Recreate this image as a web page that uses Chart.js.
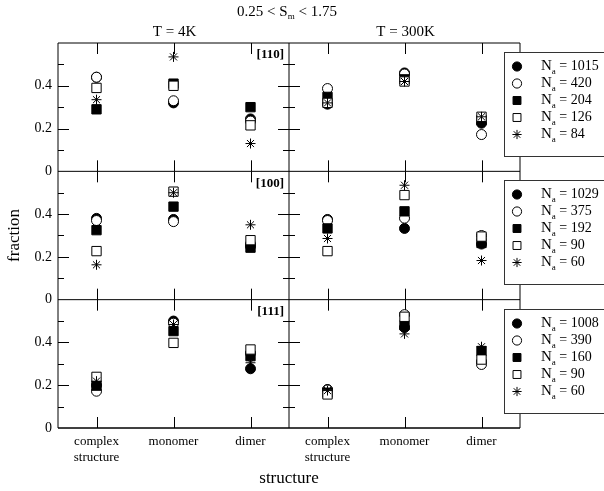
<!DOCTYPE html>
<html>
<head>
<meta charset="utf-8">
<script src="https://cdn.jsdelivr.net/npm/chart.js@4.4.0/dist/chart.umd.min.js"></script>
<style>
  html, body { margin: 0; padding: 0; background: #fff; }
  #wrap { width: 604px; height: 491px; position: relative; }
</style>
</head>
<body>
<div id="wrap"><canvas id="chart" width="604" height="491"></canvas></div>
<script>
const categories = ['complex structure', 'monomer', 'dimer'];
const temps = ['T = 4K', 'T = 300K'];
const rows = ['[110]', '[100]', '[111]'];
const yTicks = [0, 0.2, 0.4];

// N_a of each series, per orientation
const sizes110 = [1015, 420, 204, 126, 84];
const sizes100 = [1029, 375, 192, 90, 60];
const sizes111 = [1008, 390, 160, 90, 60];

// fraction per series: [complex structure, monomer, dimer]
const f110_4K = [
  [0.44, 0.32, 0.245],
  [0.44, 0.33, 0.235],
  [0.29, 0.41, 0.30],
  [0.39, 0.40, 0.215],
  [0.335, 0.535, 0.13]
];
const f110_300K = [
  [0.314, 0.46, 0.225],
  [0.387, 0.455, 0.172],
  [0.348, 0.43, 0.24],
  [0.32, 0.42, 0.255],
  [0.32, 0.42, 0.255]
];
const f100_4K = [
  [0.38, 0.375, 0.25],
  [0.37, 0.365, 0.26],
  [0.325, 0.435, 0.243],
  [0.227, 0.505, 0.278],
  [0.163, 0.50, 0.35]
];
const f100_300K = [
  [0.375, 0.333, 0.26],
  [0.37, 0.381, 0.30],
  [0.333, 0.413, 0.265],
  [0.227, 0.489, 0.295],
  [0.286, 0.535, 0.183]
];
const f111_4K = [
  [0.20, 0.50, 0.277],
  [0.172, 0.49, 0.35],
  [0.198, 0.453, 0.336],
  [0.239, 0.398, 0.367],
  [0.219, 0.484, 0.305]
];
const f111_300K = [
  [0.18, 0.47, 0.31],
  [0.178, 0.53, 0.297],
  [0.165, 0.48, 0.36],
  [0.157, 0.52, 0.32],
  [0.175, 0.44, 0.38]
];

const rowSizes = [sizes110, sizes100, sizes111];
const rowValues = [[f110_4K, f110_300K], [f100_4K, f100_300K], [f111_4K, f111_300K]];
const axisIds = ['y110', 'y100', 'y111'];

// marker look per series: filled circle, open circle, filled square, open square, star
const markers = [
  { pointStyle: 'circle', radius: 5, fill: '#000' },
  { pointStyle: 'circle', radius: 5, fill: '#fff' },
  { pointStyle: 'rect', radius: 6.6, fill: '#000' },
  { pointStyle: 'rect', radius: 6.6, fill: '#fff' },
  { pointStyle: 'star', radius: 5, fill: '#000' }
];

const FONT = "'Liberation Serif', 'Times New Roman', serif";

const datasets = [];
rowValues.forEach((pair, r) => {
  pair.forEach((series, t) => {
    series.forEach((vals, s) => {
      const m = markers[s];
      datasets.push({
        label: 'Na = ' + rowSizes[r][s] + ' ' + temps[t],
        yAxisID: axisIds[r],
        data: vals.map((v, i) => ({ x: t * categories.length + i + 1, y: v })),
        pointStyle: m.pointStyle,
        pointRadius: m.radius,
        pointBackgroundColor: m.fill,
        pointBorderColor: '#000',
        pointBorderWidth: 1,
        showLine: false,
        order: -s
      });
    });
  });
});

function yAxis(i) {
  return {
    type: 'linear',
    position: 'left',
    stack: 'rows',
    stackWeight: 1,
    min: 0,
    max: 0.6,
    afterBuildTicks: s => { s.ticks = yTicks.map(v => ({ value: v })); },
    afterFit: s => { s.width = 58; },
    grid: { display: false, drawTicks: false },
    border: { display: false },
    ticks: {
      padding: 6,
      color: '#000',
      font: { family: FONT, size: 14 },
      callback: v => String(v)
    },
    title: {
      display: i === 1,
      text: 'fraction',
      color: '#000',
      font: { family: FONT, size: 17 },
      padding: { top: 4, bottom: 0 }
    }
  };
}

function drawSubText(ctx, x, y, parts, align) {
  // parts: [text, size, dy]
  let w = 0;
  parts.forEach(p => { ctx.font = p[1] + 'px ' + FONT; w += ctx.measureText(p[0]).width; });
  let cx = align === 'center' ? x - w / 2 : x;
  ctx.textAlign = 'left';
  ctx.textBaseline = 'middle';
  parts.forEach(p => {
    ctx.font = p[1] + 'px ' + FONT;
    ctx.fillText(p[0], cx, y + p[2]);
    cx += ctx.measureText(p[0]).width;
  });
}

const framePlugin = {
  id: 'frame',
  beforeDatasetsDraw(chart) {
    const { ctx, chartArea: a } = chart;
    const xs = chart.scales.x;
    const xDiv = xs.getPixelForValue(categories.length + 0.5);
    ctx.save();
    ctx.strokeStyle = '#000';
    ctx.lineWidth = 1;
    ctx.beginPath();
    ctx.rect(a.left, a.top, a.right - a.left, a.bottom - a.top);
    ctx.moveTo(xDiv, a.top);
    ctx.lineTo(xDiv, a.bottom);
    axisIds.forEach(id => {
      const ys = chart.scales[id];
      const top = ys.getPixelForValue(0.6);
      const bot = ys.getPixelForValue(0);
      ctx.moveTo(a.left, bot);
      ctx.lineTo(a.right, bot);
      [0.1, 0.2, 0.3, 0.4, 0.5].forEach((v, k) => {
        const len = k % 2 === 1 ? 11 : 6;
        const py = Math.round(ys.getPixelForValue(v)) + 0.5;
        ctx.moveTo(a.left, py); ctx.lineTo(a.left + len, py);
        ctx.moveTo(a.right, py); ctx.lineTo(a.right - len, py);
        ctx.moveTo(xDiv - len, py); ctx.lineTo(xDiv + len, py);
      });
      for (let c = 1; c <= categories.length * temps.length; c++) {
        const px = Math.round(xs.getPixelForValue(c)) + 0.5;
        ctx.moveTo(px, top); ctx.lineTo(px, top + 11);
        ctx.moveTo(px, bot); ctx.lineTo(px, bot - 11);
      }
    });
    ctx.stroke();
    ctx.restore();
  },
  afterDraw(chart) {
    const { ctx } = chart;
    const xs = chart.scales.x;
    const xDiv = xs.getPixelForValue(categories.length + 0.5);
    ctx.save();
    ctx.fillStyle = '#000';
    // titles
    drawSubText(ctx, xDiv - 2, 12, [['0.25 < S', 15, 0], ['m', 9, 5], [' < 1.75', 15, 0]], 'center');
    ctx.font = '15px ' + FONT;
    ctx.textAlign = 'center';
    ctx.textBaseline = 'middle';
    temps.forEach((t, i) => {
      const cx = xs.getPixelForValue(i * categories.length + 2);
      ctx.fillText(t, cx + 1, 32);
    });
    // panel labels
    ctx.font = 'bold 13px ' + FONT;
    ctx.textAlign = 'right';
    axisIds.forEach((id, r) => {
      const ys = chart.scales[id];
      ctx.fillText(rows[r], xDiv - 5, ys.getPixelForValue(0.6) + 12);
    });
    // legends
    axisIds.forEach((id, r) => {
      const ys = chart.scales[id];
      const top = ys.getPixelForValue(0.6);
      const bx = 504.5, by = Math.round(top) + 9.5;
      ctx.fillStyle = '#fff';
      ctx.strokeStyle = '#333';
      ctx.lineWidth = 1;
      ctx.fillRect(bx, by, 110, 104);
      ctx.strokeRect(bx, by, 110, 104);
      rowSizes[r].forEach((n, s) => {
        const m = markers[s];
        const iy = by + 14 + s * 17;
        ctx.fillStyle = m.fill;
        ctx.strokeStyle = '#000';
        ctx.lineWidth = 1;
        Chart.helpers.drawPoint(ctx, { pointStyle: m.pointStyle, radius: m.pointStyle === 'rect' ? 5.6 : 4.6, rotation: 0, borderWidth: 1 }, 517, iy);
        ctx.fillStyle = '#000';
        drawSubText(ctx, 541, iy, [['N', 15, 0], ['a', 9, 5], [' = ' + n, 14, 0]], 'left');
      });
    });
    ctx.restore();
  }
};

new Chart(document.getElementById('chart'), {
  type: 'scatter',
  data: { datasets },
  plugins: [framePlugin],
  options: {
    responsive: false,
    animation: false,
    events: [],
    layout: { padding: { top: 43, right: 84, left: 0, bottom: 0 } },
    plugins: { legend: { display: false }, tooltip: { enabled: false } },
    scales: {
      x: {
        type: 'linear',
        min: 0.5,
        max: categories.length * temps.length + 0.5,
        afterBuildTicks: s => {
          s.ticks = [];
          for (let c = 1; c <= categories.length * temps.length; c++) s.ticks.push({ value: c });
        },
        afterFit: s => { s.height = 63; },
        grid: { display: false, drawTicks: false },
        border: { display: false },
        ticks: {
          padding: 6,
          color: '#000',
          font: { family: FONT, size: 13 },
          maxRotation: 0,
          callback: v => categories[(v - 1) % categories.length].split(' ')
        },
        title: {
          display: true,
          text: 'structure',
          color: '#000',
          font: { family: FONT, size: 17 },
          padding: { top: 0, bottom: 2 }
        }
      },
      // stacked left axes are placed last-defined on top
      y111: yAxis(2),
      y100: yAxis(1),
      y110: yAxis(0)
    }
  }
});
</script>
</body>
</html>
